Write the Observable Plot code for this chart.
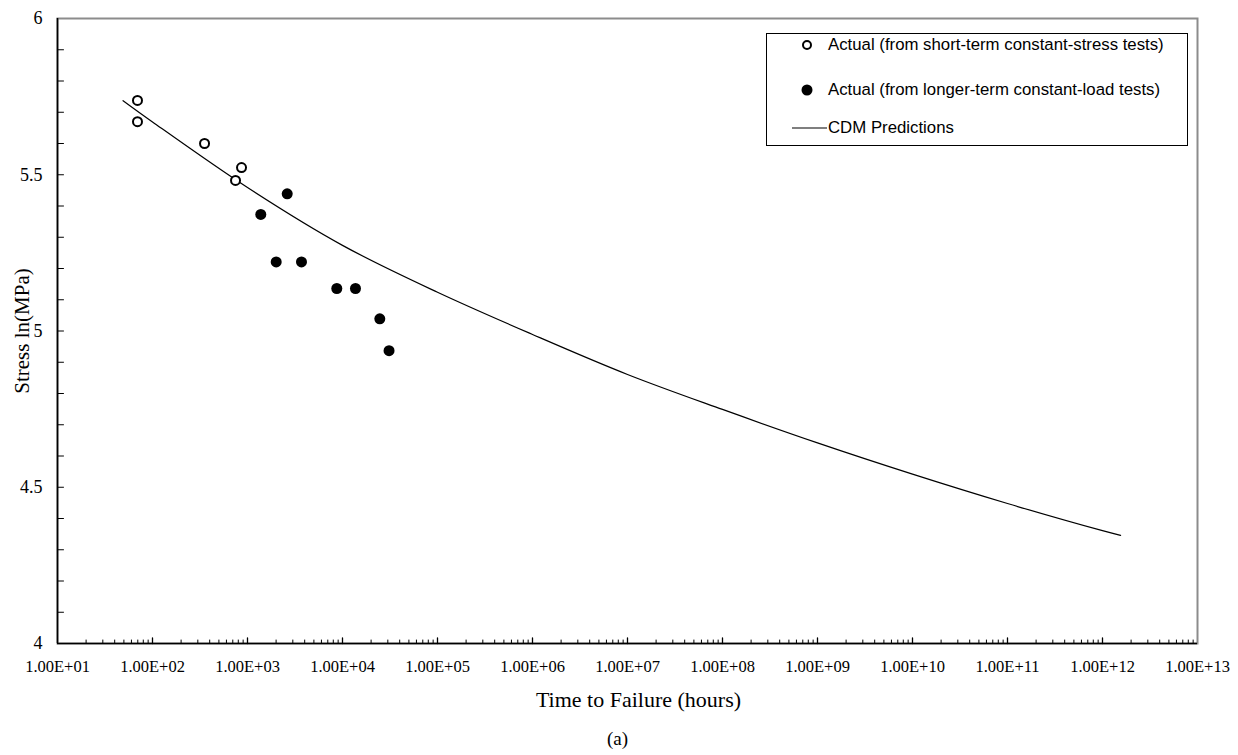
<!DOCTYPE html>
<html><head><meta charset="utf-8">
<script src="https://cdn.jsdelivr.net/npm/d3@7"></script>
<script src="https://cdn.jsdelivr.net/npm/@observablehq/plot@0.6"></script>
<style>
body{margin:0;background:#fff;}
#wrap{position:relative;width:1238px;height:755px;}
#legend{position:absolute;left:766px;top:33px;width:422px;height:113px;border:1px solid #000;box-sizing:border-box;background:#fff;font-family:Arial,"Liberation Sans",sans-serif;font-size:16.8px;color:#000;}
#legend .row{position:absolute;left:0;height:20px;line-height:20px;white-space:nowrap;}
#legend .row svg{position:absolute;left:0;top:0;}
#legend .row span{position:absolute;left:61px;top:0;}
</style></head>
<body><div id="wrap"></div>
<script>
// Data
const shortTime   = [69.5, 69.5, 353, 865, 748];
const shortStress = [5.738, 5.670, 5.600, 5.523, 5.482];
const longTime    = [2618, 1380, 2005, 3700, 8710, 13700, 24700, 30900];
const longStress  = [5.439, 5.373, 5.221, 5.221, 5.136, 5.136, 5.039, 4.937];
const cdmTime     = [49, 100, 1e3, 1e4, 1e5, 1e6, 1e7, 1e8, 1e9, 1e10, 1e11, 1e12, 1.55e12];
const cdmStress   = [5.737, 5.669, 5.459, 5.274, 5.124, 4.989, 4.861, 4.749, 4.642, 4.542, 4.448, 4.361, 4.346];

const xTickValues = [1e1,1e2,1e3,1e4,1e5,1e6,1e7,1e8,1e9,1e10,1e11,1e12,1e13];
const xTickLabels = ["1.00E+01","1.00E+02","1.00E+03","1.00E+04","1.00E+05","1.00E+06","1.00E+07","1.00E+08","1.00E+09","1.00E+10","1.00E+11","1.00E+12","1.00E+13"];
const yTickValues = [4, 4.5, 5, 5.5, 6];
const yTickLabels = ["4", "4.5", "5", "5.5", "6"];
const legendLabels = ["Actual (from short-term constant-stress tests)", "Actual (from longer-term constant-load tests)", "CDM Predictions"];

const shortData = shortTime.map((t, i) => ({time: t, stress: shortStress[i]}));
const longData  = longTime.map((t, i) => ({time: t, stress: longStress[i]}));
const cdmData   = cdmTime.map((t, i) => ({time: t, stress: cdmStress[i]}));

const xMinor = [];
for (let e = 1; e < 13; e++) for (let k = 2; k <= 9; k++) xMinor.push(k * Math.pow(10, e));
const xMajor = xTickValues.slice(1, -1);
const yMinor = d3.range(41, 60).map(v => v / 10);

const tickShape = {draw(ctx, l) { ctx.moveTo(0, 0); ctx.lineTo(0, -l); }};
const serif = "'Liberation Serif','Times New Roman',Times,serif";

const chart = Plot.plot({
  width: 1238, height: 755,
  marginLeft: 57, marginRight: 41, marginTop: 18, marginBottom: 112,
  style: {fontFamily: serif, background: "#fff", color: "#000"},
  x: {type: "log", domain: [1e1, 1e13]},
  y: {domain: [4, 6]},
  marks: [
    Plot.frame({stroke: "#8c8c8c", strokeWidth: 2}),
    Plot.ruleX([1e1], {stroke: "#000", strokeWidth: 1.6}),
    Plot.ruleY([4], {stroke: "#000", strokeWidth: 1.6}),
    Plot.vector(xMinor, {x: d => d, frameAnchor: "bottom", length: 3.5, anchor: "start", shape: tickShape, stroke: "#000", strokeWidth: 1}),
    Plot.vector(xMajor, {x: d => d, frameAnchor: "bottom", length: 5.5, anchor: "start", shape: tickShape, stroke: "#000", strokeWidth: 1.3}),
    Plot.vector(yMinor, {y: d => d, frameAnchor: "left", length: 6, rotate: 90, anchor: "start", shape: tickShape, stroke: "#000", strokeWidth: 1}),
    Plot.axisX({ticks: xTickValues, tickFormat: d => xTickLabels[xTickValues.indexOf(d)], tickSize: 0, tickPadding: 17, fontSize: 16.5, label: null}),
    Plot.axisY({ticks: yTickValues, tickFormat: d => yTickLabels[yTickValues.indexOf(d)], tickSize: 0, tickPadding: 15, fontSize: 18, label: null}),
    Plot.text(["Time to Failure (hours)"], {frameAnchor: "bottom", dy: 63, dx: 11, fontSize: 22}),
    Plot.text(["Stress ln(MPa)"], {frameAnchor: "left", textAnchor: "middle", rotate: -90, dx: -35, fontSize: 21}),
    Plot.text(["(a)"], {frameAnchor: "bottom", dy: 101, dx: -10, fontSize: 19}),
    Plot.line(cdmData, {x: "time", y: "stress", curve: "catmull-rom", stroke: "#000", strokeWidth: 1.2}),
    Plot.dot(shortData, {x: "time", y: "stress", r: 4.5, stroke: "#000", strokeWidth: 2, fill: "#fff"}),
    Plot.dot(longData, {x: "time", y: "stress", r: 5.5, fill: "#000", stroke: "none"})
  ]
});
const wrap = document.getElementById("wrap");
wrap.appendChild(chart);

// Legend
const legend = document.createElement("div");
legend.id = "legend";
const rowsTop = [1, 46, 84];
const markers = [
  '<circle cx="40" cy="10" r="4" fill="#fff" stroke="#000" stroke-width="2"/>',
  '<circle cx="40" cy="10" r="5.5" fill="#000"/>',
  '<line x1="25" x2="60" y1="10" y2="10" stroke="#000" stroke-width="1.2"/>'
];
legendLabels.forEach((lab, i) => {
  const row = document.createElement("div");
  row.className = "row";
  row.style.top = rowsTop[i] + "px";
  row.innerHTML = '<svg width="64" height="20">' + markers[i] + '</svg><span></span>';
  row.querySelector("span").textContent = lab;
  legend.appendChild(row);
});
wrap.appendChild(legend);
</script>
</body></html>
